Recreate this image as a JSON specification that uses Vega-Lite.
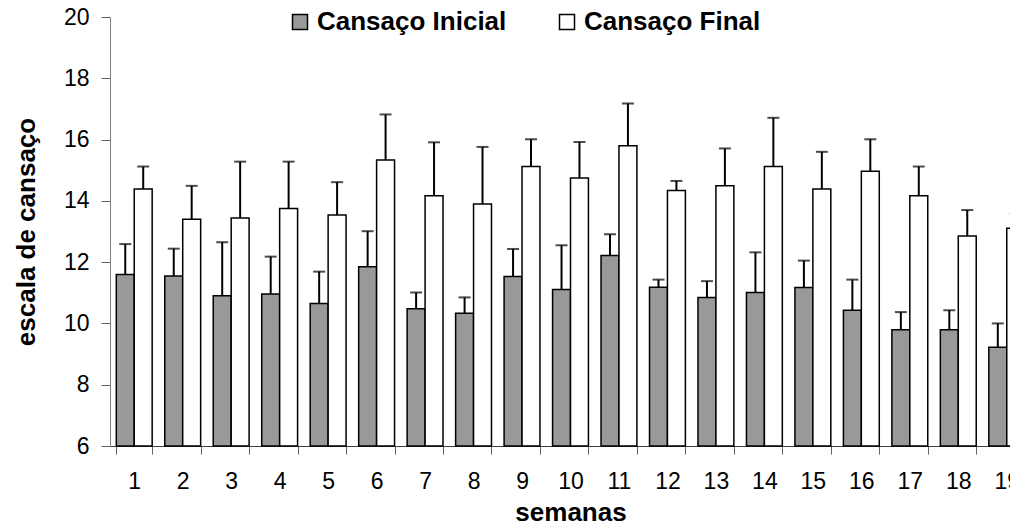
{
  "$schema": "https://vega.github.io/schema/vega-lite/v6.json",
  "autosize": "none",
  "width": 900,
  "height": 429,
  "padding": {"left": 110, "top": 17, "right": 0, "bottom": 77},
  "background": "white",
  "config": {
    "font": "Liberation Sans",
    "view": {"stroke": null},
    "axis": {"grid": false, "domainColor": "#808080", "tickColor": "#606060", "labelColor": "black", "titleColor": "black"}
  },
  "data": {
    "values": [
      {"semana": 1, "serie": "Cansaço Inicial", "valor": 11.60, "erro": 12.59},
      {"semana": 1, "serie": "Cansaço Final", "valor": 14.39, "erro": 15.12},
      {"semana": 2, "serie": "Cansaço Inicial", "valor": 11.55, "erro": 12.44},
      {"semana": 2, "serie": "Cansaço Final", "valor": 13.40, "erro": 14.49},
      {"semana": 3, "serie": "Cansaço Inicial", "valor": 10.90, "erro": 12.65},
      {"semana": 3, "serie": "Cansaço Final", "valor": 13.44, "erro": 15.28},
      {"semana": 4, "serie": "Cansaço Inicial", "valor": 10.96, "erro": 12.18},
      {"semana": 4, "serie": "Cansaço Final", "valor": 13.75, "erro": 15.28},
      {"semana": 5, "serie": "Cansaço Inicial", "valor": 10.65, "erro": 11.69},
      {"semana": 5, "serie": "Cansaço Final", "valor": 13.54, "erro": 14.61},
      {"semana": 6, "serie": "Cansaço Inicial", "valor": 11.85, "erro": 13.01},
      {"semana": 6, "serie": "Cansaço Final", "valor": 15.33, "erro": 16.82},
      {"semana": 7, "serie": "Cansaço Inicial", "valor": 10.48, "erro": 11.01},
      {"semana": 7, "serie": "Cansaço Final", "valor": 14.17, "erro": 15.91},
      {"semana": 8, "serie": "Cansaço Inicial", "valor": 10.33, "erro": 10.85},
      {"semana": 8, "serie": "Cansaço Final", "valor": 13.90, "erro": 15.76},
      {"semana": 9, "serie": "Cansaço Inicial", "valor": 11.53, "erro": 12.43},
      {"semana": 9, "serie": "Cansaço Final", "valor": 15.12, "erro": 16.01},
      {"semana": 10, "serie": "Cansaço Inicial", "valor": 11.11, "erro": 12.55},
      {"semana": 10, "serie": "Cansaço Final", "valor": 14.75, "erro": 15.92},
      {"semana": 11, "serie": "Cansaço Inicial", "valor": 12.22, "erro": 12.91},
      {"semana": 11, "serie": "Cansaço Final", "valor": 15.80, "erro": 17.18},
      {"semana": 12, "serie": "Cansaço Inicial", "valor": 11.18, "erro": 11.43},
      {"semana": 12, "serie": "Cansaço Final", "valor": 14.34, "erro": 14.65},
      {"semana": 13, "serie": "Cansaço Inicial", "valor": 10.85, "erro": 11.38},
      {"semana": 13, "serie": "Cansaço Final", "valor": 14.49, "erro": 15.71},
      {"semana": 14, "serie": "Cansaço Inicial", "valor": 11.01, "erro": 12.32},
      {"semana": 14, "serie": "Cansaço Final", "valor": 15.12, "erro": 16.71},
      {"semana": 15, "serie": "Cansaço Inicial", "valor": 11.17, "erro": 12.05},
      {"semana": 15, "serie": "Cansaço Final", "valor": 14.39, "erro": 15.60},
      {"semana": 16, "serie": "Cansaço Inicial", "valor": 10.43, "erro": 11.43},
      {"semana": 16, "serie": "Cansaço Final", "valor": 14.97, "erro": 16.01},
      {"semana": 17, "serie": "Cansaço Inicial", "valor": 9.79, "erro": 10.37},
      {"semana": 17, "serie": "Cansaço Final", "valor": 14.17, "erro": 15.12},
      {"semana": 18, "serie": "Cansaço Inicial", "valor": 9.79, "erro": 10.43},
      {"semana": 18, "serie": "Cansaço Final", "valor": 12.85, "erro": 13.70},
      {"semana": 19, "serie": "Cansaço Inicial", "valor": 9.22, "erro": 10.00},
      {"semana": 19, "serie": "Cansaço Final", "valor": 13.11, "erro": 13.58}
    ]
  },
  "encoding": {
    "x": {
      "field": "semana",
      "type": "ordinal",
      "scale": {"type": "band", "paddingInner": 0.26, "paddingOuter": 0.13, "range": [0, 921]},
      "axis": {
        "title": "semanas",
        "titleFontSize": 26,
        "titleFontWeight": "bold",
        "titlePadding": 6,
        "labelFontSize": 23,
        "labelAngle": 0,
        "labelPadding": 16,
        "tickSize": 8,
        "tickBand": "extent",
        "domainColor": "#404040"
      }
    },
    "xOffset": {
      "field": "serie",
      "type": "nominal",
      "sort": ["Cansaço Inicial", "Cansaço Final"],
      "scale": {"paddingInner": 0, "paddingOuter": 0}
    }
  },
  "layer": [
    {
      "mark": {"type": "bar", "stroke": "black", "strokeWidth": 1.5},
      "encoding": {
        "y": {
          "field": "valor",
          "type": "quantitative",
          "scale": {"domain": [6, 20], "nice": false, "zero": false},
          "axis": {
            "title": "escala de cansaço",
            "titleFontSize": 26,
            "titleFontWeight": "bold",
            "titlePadding": 24,
            "values": [6, 8, 10, 12, 14, 16, 18, 20],
            "labelFontSize": 23,
            "labelPadding": 12,
            "tickSize": 9
          }
        },
        "y2": {"datum": 6},
        "fill": {
          "field": "serie",
          "type": "nominal",
          "scale": {"domain": ["Cansaço Inicial", "Cansaço Final"], "range": ["#999999", "#ffffff"]},
          "legend": {
            "title": null,
            "orient": "none",
            "direction": "horizontal",
            "legendX": 177,
            "legendY": -8,
            "padding": 0,
            "symbolType": "square",
            "symbolSize": 225,
            "symbolStrokeColor": "black",
            "symbolStrokeWidth": 1.5,
            "labelFontSize": 26,
            "labelFontWeight": "bold",
            "labelColor": "black",
            "labelOffset": 4,
            "labelLimit": 400,
            "columnPadding": 47
          }
        }
      }
    },
    {
      "mark": {"type": "rule", "color": "black", "strokeWidth": 2},
      "encoding": {
        "y": {"field": "valor", "type": "quantitative"},
        "y2": {"field": "erro"}
      }
    },
    {
      "mark": {"type": "tick", "color": "black", "thickness": 2, "size": 12},
      "encoding": {
        "y": {"field": "erro", "type": "quantitative"}
      }
    }
  ]
}
